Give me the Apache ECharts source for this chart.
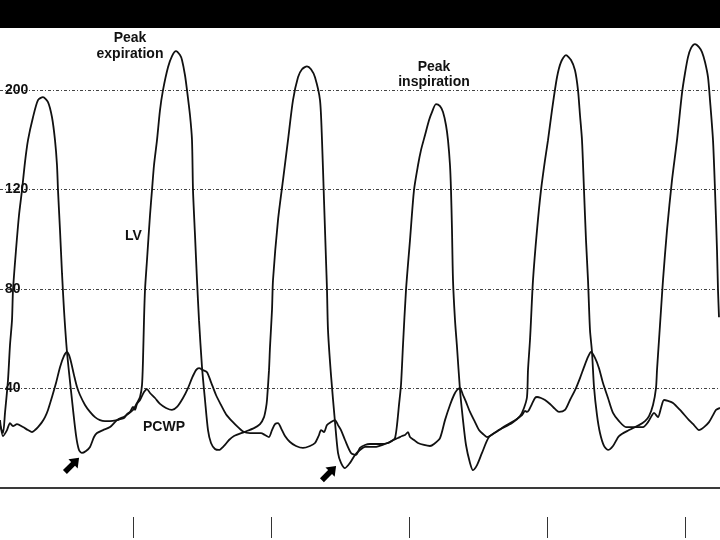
<!DOCTYPE html>
<html>
<head>
<meta charset="utf-8">
<script src="https://cdn.jsdelivr.net/npm/echarts@6/dist/echarts.min.js"></script>
<style>
html,body{margin:0;padding:0;background:#fff;}
#chart{width:720px;height:540px;}
</style>
</head>
<body>
<div id="chart"></div>
<script>
// Time axis in digitizer samples; pressure in display units (one grid step = 40)
const lvX = [0,3,5,8,10,12,13,16,19,22,25,28,33,38,43,48,52,55,57,58,60,62,64,67,72,76,79,82,86,90,94,97,103,110,117,125,133,137,140,142,143,144,145,147,150,152,154,157,160,163,168,172,176,180,182,185,187,190,192,193,195,197,199,202,205,208,211,215,219,224,229,234,244,254,260,264,266,267,269,270,272,273,278,283,288,293,298,302,307,311,315,320,322,324,326,327,328,331,335,338,341,345,350,355,360,365,375,385,392,395,397,399,401,403,406,410,414,418,421,425,429,432,436,440,443,446,448,450,451,452,453,455,457,460,463,466,470,473,477,482,489,499,512,520,524,527,528,530,531,533,537,541,545,548,552,557,561,566,571,575,578,580,582,584,586,588,590,592,594,597,600,604,608,613,619,629,639,645,649,653,656,657,659,661,663,667,672,677,682,685,688,691,695,699,702,705,708,710,713,715,717,718,719];
const lvY = [25.3,22.1,30.2,43.4,57.5,67.5,79.6,95.7,109.7,119.8,131.1,139.9,149.1,156.0,157.2,155.2,149.1,139.9,129.8,119.8,103.7,86.4,71.6,54.7,35.4,21.3,15.3,14.1,14.9,16.5,20.5,22.1,23.3,24.5,27.3,28.9,31.4,34.2,36.6,41.4,51.5,67.5,79.6,91.7,109.7,119.8,129.8,139.9,152.0,160.0,169.2,173.7,175.7,174.1,172.1,166.0,160.0,149.9,139.9,119.8,101.7,83.6,67.5,48.6,35.4,23.3,18.1,15.7,15.3,16.9,19.3,20.9,22.5,24.1,25.7,28.5,32.2,35.4,47.4,56.7,71.6,83.6,107.7,123.8,139.9,156.0,165.2,168.4,169.6,168.4,165.2,156.0,139.9,115.8,91.7,79.6,63.5,45.4,26.5,14.1,10.1,8.0,10.1,13.3,15.3,16.5,16.5,17.7,18.9,20.1,25.3,33.4,41.4,57.5,79.6,99.7,119.8,129.8,135.9,141.9,147.9,151.2,154.4,153.6,151.2,145.9,139.9,129.8,119.8,103.7,83.6,67.5,56.7,39.4,27.3,17.3,10.1,7.2,9.2,14.1,20.5,23.3,26.1,28.9,32.2,36.6,47.4,59.5,67.5,83.6,103.7,119.8,131.9,139.9,152.0,165.2,171.3,174.1,172.1,168.0,160.0,149.9,139.9,119.8,99.7,83.6,63.5,54.7,40.6,29.3,22.1,16.9,15.3,16.9,20.9,23.3,25.3,26.9,28.9,33.4,40.2,47.4,59.5,71.6,83.6,103.7,123.8,139.9,158.8,166.8,173.3,176.9,178.5,177.3,175.3,171.3,165.2,156.0,139.9,119.8,95.7,79.6,68.7];

const pcwpX = [0,3,7,10,13,17,23,28,32,35,38,42,45,48,52,56,60,64,67,70,74,77,80,85,90,95,100,105,110,117,120,124,127,130,133,135,137,140,144,147,150,155,160,166,172,177,183,188,192,196,199,203,207,211,216,221,226,232,238,244,250,256,261,265,269,272,275,278,281,285,290,296,303,310,315,319,321,324,327,331,335,338,341,345,351,356,360,365,370,380,388,393,398,402,405,408,410,414,418,424,430,434,440,445,450,454,457,460,463,466,470,475,479,483,487,493,499,505,512,518,522,525,527,529,532,535,537,541,545,550,555,559,565,570,576,580,584,588,591,595,599,603,608,613,619,626,634,643,648,652,654,658,661,664,668,673,680,689,694,699,704,709,713,716,720];
const pcwpY = [27.3,20.9,23.3,26.1,24.9,25.7,24.5,23.3,22.5,23.3,24.5,26.5,28.5,31.4,36.6,42.2,48.6,53.1,54.7,52.3,45.4,40.6,37.4,33.4,30.6,28.5,27.3,26.9,26.9,27.3,27.7,28.1,29.7,30.6,32.6,31.4,33.8,35.4,38.6,39.8,38.2,36.2,33.8,32.2,31.4,32.6,36.2,40.2,44.2,47.4,48.2,47.4,46.6,42.6,37.4,33.4,29.7,26.9,24.5,22.5,22.1,22.1,22.1,21.3,20.5,23.3,25.7,26.1,24.1,20.9,18.5,16.9,16.1,16.9,18.1,21.3,23.3,22.5,25.3,26.5,27.3,25.3,23.3,19.3,14.1,13.3,16.1,17.3,17.7,17.7,18.1,19.3,20.1,20.9,21.3,22.5,20.5,19.3,18.1,17.3,16.9,17.7,20.1,27.3,33.4,37.4,39.4,40.2,37.4,34.6,30.6,26.5,23.3,21.7,20.5,21.7,23.3,24.9,26.5,28.1,29.3,31.0,30.6,31.4,33.8,36.2,36.6,36.2,35.4,33.8,31.8,30.6,31.4,35.4,40.2,44.2,48.6,52.7,54.7,52.3,48.2,42.2,36.2,30.2,26.9,24.5,24.5,24.5,26.5,29.3,30.2,28.5,32.2,35.4,35.0,34.2,31.4,27.3,25.3,23.3,24.5,26.5,29.3,31.4,32.2];

const gridValues = [40, 80, 120, 160];
const gridLabels = ['40', '80', '120', '200'];
const timeTicks = [133, 271, 409, 547, 685];
const arrowTargets = [[82, 14.1], [345, 8.0]];

const chart = echarts.init(document.getElementById('chart'), null, {renderer: 'canvas'});
const zip = (xs, ys) => xs.map((x, i) => [x, ys[i]]);
const FONT = 'Liberation Sans, Arial, sans-serif';
const arrowPath = 'path://M0,-10 L7.5,-1.5 L3.2,-1.5 L3.2,10 L-3.2,10 L-3.2,-1.5 L-7.5,-1.5 Z';

chart.setOption({
  animation: false,
  backgroundColor: '#ffffff',
  grid: [
    {left: 0, right: 0, top: 28, bottom: 52},
    {left: 0, right: 0, top: 516, height: 1}
  ],
  xAxis: [{
    type: 'value', min: 0, max: 720, gridIndex: 0,
    axisLine: {show: true, onZero: false, lineStyle: {color: '#3a3a3a', width: 2}},
    axisTick: {show: false}, axisLabel: {show: false}, splitLine: {show: false}
  }, {
    type: 'value', min: 0, max: 720, gridIndex: 1, position: 'bottom',
    axisLine: {show: false},
    axisTick: {show: true, length: 21, customValues: timeTicks, lineStyle: {color: '#333', width: 1}},
    axisLabel: {show: false}, splitLine: {show: false}
  }],
  yAxis: [{
    type: 'value', min: 0, max: 185, interval: 40, gridIndex: 0,
    axisLine: {show: false}, axisTick: {show: false},
    axisLabel: {
      inside: true, margin: 5, color: '#111',
      fontFamily: FONT, fontWeight: 'bold', fontSize: 14,
      formatter: v => { const i = gridValues.indexOf(v); return i >= 0 ? gridLabels[i] : ''; }
    },
    splitLine: {show: true, showMaxLine: false, lineStyle: {color: '#444', width: 1, type: [3, 2, 1, 2]}}
  }, {
    type: 'value', gridIndex: 1, show: false
  }],
  series: [{
    name: 'LV', type: 'line', data: zip(lvX, lvY), showSymbol: false, smooth: 0.25,
    lineStyle: {color: '#111', width: 1.8}, z: 3,
    markPoint: {
      symbol: arrowPath, symbolSize: [13, 20], symbolRotate: -45,
      itemStyle: {color: '#000'}, label: {show: false},
      data: [
        {coord: arrowTargets[0], symbolOffset: [-10, 12]},
        {coord: arrowTargets[1], symbolOffset: [-16, 5]}
      ]
    }
  }, {
    name: 'PCWP', type: 'line', data: zip(pcwpX, pcwpY), showSymbol: false, smooth: 0.25,
    lineStyle: {color: '#111', width: 1.8}, z: 3
  }],
  graphic: [
    {type: 'rect', left: 0, top: 0, shape: {width: 720, height: 28}, style: {fill: '#000'}, z: 100},
    {type: 'text', x: 130, y: 30, style: {text: 'Peak\nexpiration', fontFamily: FONT, fontWeight: 'bold', fontSize: 14, lineHeight: 16, fill: '#111', align: 'center'}, z: 50},
    {type: 'text', x: 434, y: 60, style: {text: 'Peak\ninspiration', fontFamily: FONT, fontWeight: 'bold', fontSize: 14, lineHeight: 15, fill: '#111', align: 'center'}, z: 50},
    {type: 'text', x: 125, y: 229, style: {text: 'LV', fontFamily: FONT, fontWeight: 'bold', fontSize: 14, fill: '#111'}, z: 50},
    {type: 'text', x: 143, y: 420, style: {text: 'PCWP', fontFamily: FONT, fontWeight: 'bold', fontSize: 14, fill: '#111'}, z: 50}
  ]
});
</script>
</body>
</html>
